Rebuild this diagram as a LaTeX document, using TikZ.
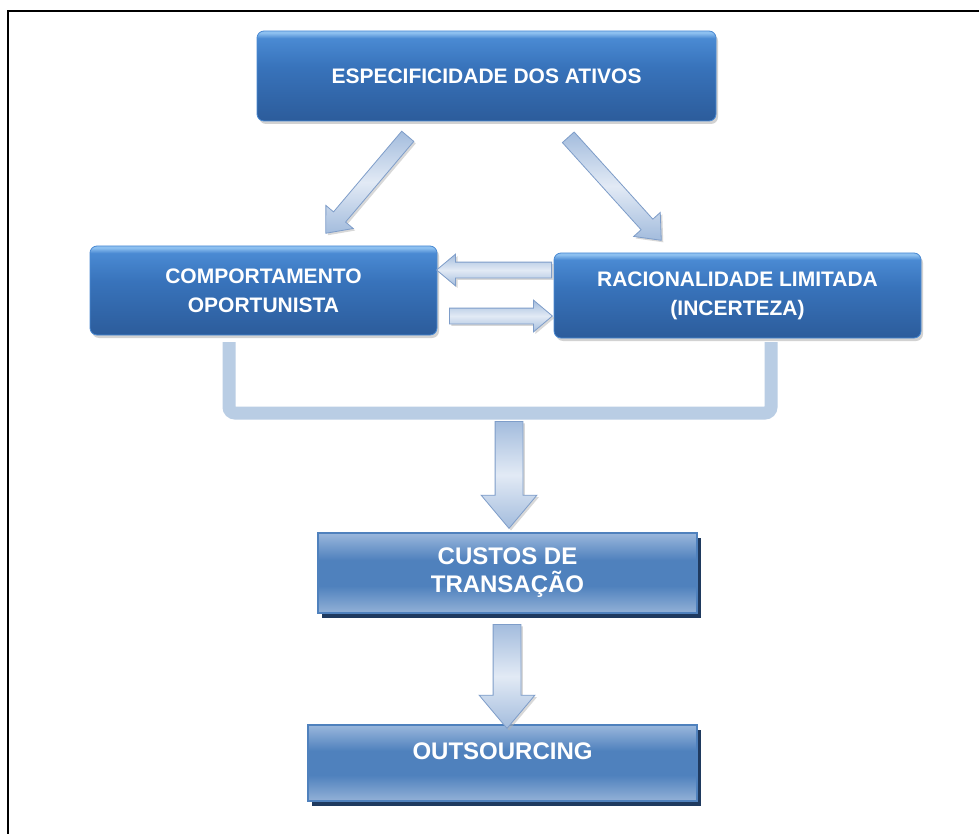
\documentclass[tikz,border=0pt]{standalone}
\usepackage{fontspec}
\setmainfont{Liberation Sans}
\usetikzlibrary{shapes.arrows,shadows,calc}
\definecolor{gA}{HTML}{2C5C9B}
\definecolor{gB}{HTML}{3873BB}
\definecolor{gC}{HTML}{4A8AD3}
\definecolor{gD}{HTML}{8DC0F0}
\definecolor{lbA}{HTML}{93B1D7}
\definecolor{lbB}{HTML}{4F81BD}
\definecolor{lbC}{HTML}{9AB7DC}
\definecolor{bshadow}{HTML}{1F3A5F}
\definecolor{bracketc}{HTML}{B9CDE4}
\definecolor{arrA}{HTML}{A3BCDD}
\definecolor{arrB}{HTML}{E2EAF5}
\definecolor{arrD}{HTML}{7E9DC9}
\pgfdeclareverticalshading{glossy}{100bp}{color(0bp)=(gA); color(25bp)=(gA); color(55bp)=(gB); color(71bp)=(gC); color(74bp)=(gD); color(100bp)=(gD)}
\pgfdeclareverticalshading{flatbox}{100bp}{color(0bp)=(lbA); color(25bp)=(lbA); color(42bp)=(lbB); color(58bp)=(lbB); color(75bp)=(lbC); color(100bp)=(lbC)}
\tikzset{
  glossbox/.style={rounded corners=7pt, shading=glossy, draw=gC, line width=0.8pt,
    text=white, font=\bfseries\fontsize{21}{29}\selectfont, align=center,
    drop shadow={shadow xshift=2pt, shadow yshift=-3pt, fill=black!35}},
  flatbox/.style={shading=flatbox, draw=lbB, line width=1.5pt,
    text=white, font=\bfseries\fontsize{24}{28}\selectfont, align=center,
    drop shadow={shadow xshift=4pt, shadow yshift=-5pt, fill=bshadow, opacity=1}},
  blockarr/.style={single arrow, shape border uses incircle=false, inner xsep=0pt,
    single arrow tip angle=80, single arrow head indent=0pt, anchor=tail,
    top color=arrA, bottom color=arrA, middle color=arrB, draw=arrD, line width=0.8pt,
    drop shadow={shadow xshift=2pt, shadow yshift=-2pt, fill=black!30}},
  brk/.style={line width=13pt, draw=bracketc, rounded corners=6pt},
  framel/.style={line width=2pt, draw=black}
}
\newcommand\blockarrow[4]{% from, to, half shaft, head extend
  \path let \p1=($(#2)-(#1)$), \n1={atan2(\y1,\x1)}, \n2={veclen(\x1,\y1)} in
    node[blockarr, rotate=\n1, minimum height=\n2, inner ysep=#3, single arrow head extend=#4]
    at (#1) {};}
\begin{document}
\begin{tikzpicture}[x=1pt,y=-1pt]
\useasboundingbox (0,0) rectangle (979,834);
\fill[white] (0,0) rectangle (979,834);
% frame
\coordinate (f1) at (8,834);
\coordinate (f2) at (8,11);
\coordinate (f3) at (979,11);
\draw[framel] (f1) -- (f2) -- (f3);

% boxes
\node[glossbox, minimum width=459pt, minimum height=90pt] (esp) at (486.5,76) {ESPECIFICIDADE DOS ATIVOS};
\node[glossbox, minimum width=347pt, minimum height=89pt] (comp) at (263.5,290.5) {COMPORTAMENTO\\OPORTUNISTA};
\node[glossbox, minimum width=367pt, minimum height=85pt] (rac) at (737.5,295.5) {RACIONALIDADE LIMITADA\\(INCERTEZA)};
\node[flatbox, minimum width=379pt, minimum height=80pt] (cust) at (507.5,573) {CUSTOS DE\\TRANSAÇÃO};
\node[flatbox, minimum width=389pt, minimum height=76pt, text depth=24pt] (outs) at (502.5,763) {OUTSOURCING};

% bracket
\coordinate (bl) at (229,342);
\coordinate (br) at (771,342);
\draw[brk] (bl) -- ++(0,71) -| (br);

% arrow end points
\coordinate (d1s) at (408,136);
\coordinate (d1e) at (326,233);
\coordinate (d2s) at (568,137);
\coordinate (d2e) at (661,240);
\coordinate (h1s) at (552,270);
\coordinate (h1e) at (437,270);
\coordinate (h2s) at (449,316);
\coordinate (h2e) at (552,316);
\coordinate (v1s) at (509,421);
\coordinate (v1e) at (509,528);
\coordinate (v2s) at (507,624);
\coordinate (v2e) at (507,728);

\blockarrow{d1s}{d1e}{7.5pt}{10pt}
\blockarrow{d2s}{d2e}{7.5pt}{10pt}
\blockarrow{h1s}{h1e}{7.5pt}{8pt}
\blockarrow{h2s}{h2e}{7.5pt}{8pt}
\blockarrow{v1s}{v1e}{13.5pt}{14pt}
\blockarrow{v2s}{v2e}{13.5pt}{14pt}
\end{tikzpicture}
\end{document}
